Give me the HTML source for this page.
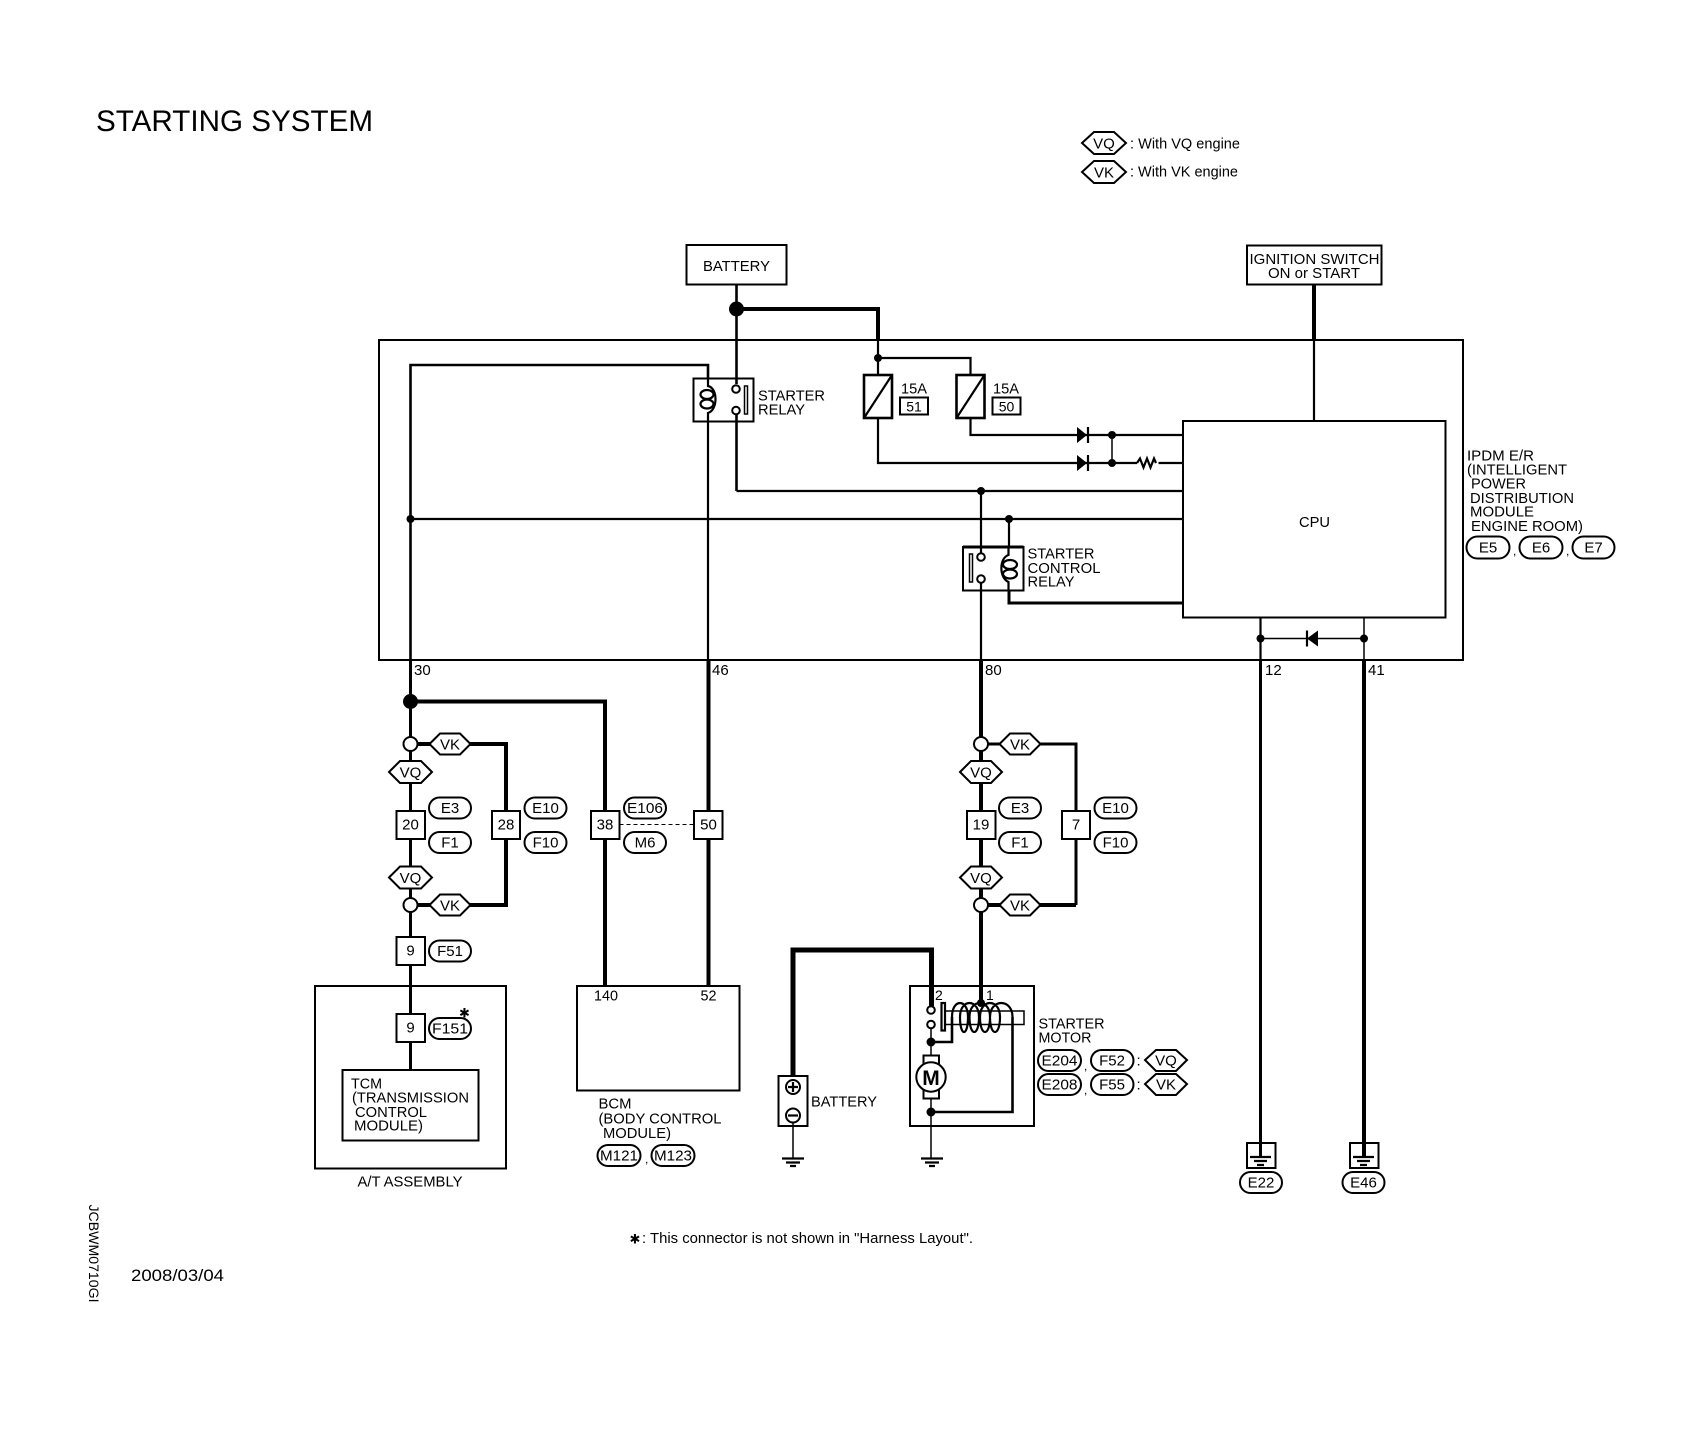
<!DOCTYPE html>
<html><head><meta charset="utf-8"><title>Starting System</title>
<style>
html,body{margin:0;padding:0;background:#fff}
svg{display:block}
text{font-family:"Liberation Sans",sans-serif;font-size:15px;fill:#000}
.m{text-anchor:middle}
.b{fill:none;stroke:#000;stroke-width:2}
.w{fill:#fff;stroke:#000;stroke-width:2}
.t1{fill:none;stroke:#000;stroke-width:1.5}
.t2{fill:none;stroke:#000;stroke-width:2.2}
.t25{fill:none;stroke:#000;stroke-width:2.6}
.t3{fill:none;stroke:#000;stroke-width:3}
.t4{fill:none;stroke:#000;stroke-width:4}
.d{fill:#000;stroke:none}
</style></head><body>
<svg xmlns="http://www.w3.org/2000/svg" width="1694" height="1456" viewBox="0 0 1694 1456">
<rect width="1694" height="1456" fill="#fff"/>

<!-- Title -->
<text x="96" y="131" style="font-size:30px" textLength="277" lengthAdjust="spacingAndGlyphs">STARTING SYSTEM</text>

<!-- Legend -->
<polygon class="w" points="1082,143 1094,132 1114,132 1126,143 1114,154 1094,154"/>
<text x="1104" y="148.5" class="m">VQ</text>
<text x="1130" y="148.5" textLength="110" lengthAdjust="spacingAndGlyphs">: With VQ engine</text>
<polygon class="w" points="1082,172 1094,161 1114,161 1126,172 1114,183 1094,183"/>
<text x="1104" y="177.5" class="m">VK</text>
<text x="1130" y="176.5" textLength="108" lengthAdjust="spacingAndGlyphs">: With VK engine</text>

<!-- Top boxes -->
<rect class="b" x="686.5" y="245" width="100" height="39.5"/>
<text x="703" y="271" textLength="67" lengthAdjust="spacingAndGlyphs">BATTERY</text>
<rect class="b" x="1247" y="245.5" width="134.5" height="39"/>
<text x="1249.5" y="264" textLength="130" lengthAdjust="spacingAndGlyphs">IGNITION SWITCH</text>
<text x="1268" y="278" textLength="92" lengthAdjust="spacingAndGlyphs">ON or START</text>

<!-- IPDM enclosure -->
<rect class="b" x="379" y="340" width="1084" height="320"/>

<!-- Upper wiring -->
<path class="t25" d="M736.5 284.5V384"/>
<circle class="d" cx="736.5" cy="309" r="7.5"/>
<path class="t4" d="M736.5 309H878V340"/>
<path class="t2" d="M878 340V374.5"/>
<circle class="d" cx="878" cy="358" r="4"/>
<path class="t2" d="M878 358H970.5V374.5"/>
<path class="t4" d="M1314 284.5V340"/>
<path class="t2" d="M1314 340V421"/>

<!-- Starter relay -->
<path class="t25" d="M410.5 660V365H708V378"/>
<rect class="b" x="693.5" y="378.5" width="60" height="43"/>
<path class="t2" d="M708 378V386C718 388 718 410 708 413V421"/>
<ellipse class="t2" cx="707" cy="394.5" rx="6.5" ry="4.5"/>
<ellipse class="t2" cx="707" cy="404" rx="6.5" ry="4.5"/>
<circle class="w" cx="736" cy="389" r="3.8"/>
<circle class="w" cx="736" cy="410.5" r="3.8"/>
<rect class="t1" x="744.5" y="386" width="3" height="28"/>
<text x="758" y="400.5" textLength="67" lengthAdjust="spacingAndGlyphs">STARTER</text>
<text x="758" y="414.5" textLength="47" lengthAdjust="spacingAndGlyphs">RELAY</text>
<path class="t2" d="M708 421V660"/>
<path class="t4" d="M708.5 660V985.5"/>
<path class="t25" d="M736.5 414V491"/>
<path class="t2" d="M736.5 491H1183"/>
<path class="t2" d="M410.5 519H1183"/>
<circle class="d" cx="410.5" cy="519" r="4"/>

<!-- Fuses -->
<rect class="b" x="864" y="375" width="28" height="43" style="stroke-width:2.6"/>
<line class="t2" x1="864" y1="418" x2="892" y2="375"/>
<rect class="b" x="956.5" y="375" width="28" height="43" style="stroke-width:2.6"/>
<line class="t2" x1="956.5" y1="418" x2="984.5" y2="375"/>
<text x="901" y="393.5" textLength="26" lengthAdjust="spacingAndGlyphs">15A</text>
<rect class="b" x="900" y="397.5" width="28" height="17"/>
<text x="914" y="411.5" class="m" style="font-size:14px">51</text>
<text x="993" y="393.5" textLength="26" lengthAdjust="spacingAndGlyphs">15A</text>
<rect class="b" x="992.5" y="397.5" width="28" height="17"/>
<text x="1006.5" y="411.5" class="m" style="font-size:14px">50</text>

<path class="t2" d="M970.5 418V435H1183"/>
<path class="t2" d="M878 418V463H1137"/>
<path class="t2" d="M1158.5 463H1183"/>
<path class="t2" d="M1137 463l3 -4.5 3.5 9 3.5 -9 3.5 9 3.5 -9 2 4.5"/>
<polygon class="d" points="1077,427 1087,435 1077,443"/>
<line class="t2" x1="1088" y1="427" x2="1088" y2="443"/>
<polygon class="d" points="1077,455 1087,463 1077,471"/>
<line class="t2" x1="1088" y1="455" x2="1088" y2="471"/>
<line class="t1" x1="1112" y1="435" x2="1112" y2="463"/>
<circle class="d" cx="1112" cy="435" r="4"/>
<circle class="d" cx="1112" cy="463" r="4"/>

<!-- Starter control relay -->
<circle class="d" cx="981" cy="491" r="4"/>
<circle class="d" cx="1009" cy="519" r="4"/>
<path class="t2" d="M981 491V547"/>
<path class="t2" d="M1009 519V547"/>
<rect class="b" x="963" y="547" width="60.5" height="43.5"/>
<line class="t3" x1="963" y1="547" x2="1023.5" y2="547"/>
<path class="t2" d="M1008.5 547V555C999 558 999 578 1008.5 582V590.5"/>
<ellipse class="t2" cx="1010" cy="564.5" rx="7" ry="4.5"/>
<ellipse class="t2" cx="1010" cy="574" rx="7" ry="4.5"/>
<path class="t2" d="M981 547V553M981 582V660"/>
<circle class="w" cx="981" cy="557" r="3.8"/>
<circle class="w" cx="981" cy="579" r="3.8"/>
<rect class="t1" x="969.5" y="554" width="3" height="28"/>
<path class="t3" d="M1009 590.5V603H1183"/>
<text x="1027.5" y="558.5" textLength="67" lengthAdjust="spacingAndGlyphs">STARTER</text>
<text x="1027.5" y="573" textLength="73" lengthAdjust="spacingAndGlyphs">CONTROL</text>
<text x="1027.5" y="586.5" textLength="47" lengthAdjust="spacingAndGlyphs">RELAY</text>

<!-- CPU -->
<rect class="b" x="1183" y="421" width="262.5" height="196.5"/>
<text x="1299" y="527" textLength="31" lengthAdjust="spacingAndGlyphs">CPU</text>
<path class="t2" d="M1260.5 617.5V660"/>
<path class="t1" d="M1364 617.5V660"/>
<line class="t1" x1="1260.5" y1="638.5" x2="1364" y2="638.5"/>
<circle class="d" cx="1260.5" cy="638.5" r="4"/>
<circle class="d" cx="1364" cy="638.5" r="4"/>
<polygon class="d" points="1318,630.5 1307,638.5 1318,646.5"/>
<line class="t2" x1="1307" y1="630.5" x2="1307" y2="646.5"/>

<!-- IPDM label -->
<text x="1467" y="460.5" textLength="67" lengthAdjust="spacingAndGlyphs">IPDM E/R</text>
<text x="1467" y="474.5" textLength="100" lengthAdjust="spacingAndGlyphs">(INTELLIGENT</text>
<text x="1471" y="488.5" textLength="55" lengthAdjust="spacingAndGlyphs">POWER</text>
<text x="1470" y="503" textLength="104" lengthAdjust="spacingAndGlyphs">DISTRIBUTION</text>
<text x="1470" y="516.5" textLength="64" lengthAdjust="spacingAndGlyphs">MODULE</text>
<text x="1471" y="531" textLength="112" lengthAdjust="spacingAndGlyphs">ENGINE ROOM)</text>
<rect class="b" x="1466.5" y="536.5" width="43" height="22" rx="11"/><text x="1488" y="552.5" class="m">E5</text>
<rect class="b" x="1519.5" y="536.5" width="43" height="22" rx="11"/><text x="1541" y="552.5" class="m">E6</text>
<rect class="b" x="1572.5" y="536.5" width="42" height="22" rx="11"/><text x="1593.5" y="552.5" class="m">E7</text>
<text x="1513" y="555" style="font-size:12px">,</text><text x="1566" y="555" style="font-size:12px">,</text>

<!-- Pin numbers -->
<text x="414" y="675">30</text>
<text x="712" y="675">46</text>
<text x="985" y="675">80</text>
<text x="1265" y="675">12</text>
<text x="1368" y="675">41</text>

<!-- Down wires -->
<path class="t3" d="M410.5 660V985.5"/>
<circle class="d" cx="410.5" cy="701.5" r="7.5"/>
<path class="t4" d="M410.5 701.5H605V985.5"/>
<path class="t4" d="M410.5 744H506V905H410.5"/>
<path class="t4" d="M981 660V1003"/>
<path class="t3" d="M981 744H1076V905"/>
<path class="t4" d="M1076 905H981"/>
<path class="t3" d="M410.5 985.5V1070"/>
<path class="t3" d="M1260.5 660V1157"/>
<path class="t4" d="M1364 660V1157"/>

<!-- Left harness group -->
<circle class="w" cx="410.5" cy="744" r="7"/>
<circle class="w" cx="410.5" cy="905" r="7"/>
<polygon class="w" points="429.5,744 440,733.5 460,733.5 470.5,744 460,754.5 440,754.5"/>
<text x="450" y="749.5" class="m">VK</text>
<polygon class="w" points="429.5,905 440,894.5 460,894.5 470.5,905 460,915.5 440,915.5"/>
<text x="450" y="910.5" class="m">VK</text>
<polygon class="w" points="389,772 400,761 421,761 432,772 421,783 400,783"/>
<text x="410.5" y="777.5" class="m">VQ</text>
<polygon class="w" points="389,877.5 400,866.5 421,866.5 432,877.5 421,888.5 400,888.5"/>
<text x="410.5" y="883" class="m">VQ</text>

<rect class="w" x="396.5" y="811" width="28.5" height="28"/><text x="410.5" y="829.5" class="m">20</text>
<rect class="w" x="492" y="811" width="28" height="28"/><text x="506" y="829.5" class="m">28</text>
<rect class="b" x="429" y="797.5" width="42" height="21" rx="10.5"/><text x="450" y="813" class="m">E3</text>
<rect class="b" x="429" y="832" width="42" height="21" rx="10.5"/><text x="450" y="847.5" class="m">F1</text>
<rect class="b" x="524.5" y="797.5" width="42" height="21" rx="10.5"/><text x="545.5" y="813" class="m">E10</text>
<rect class="b" x="524.5" y="832" width="42" height="21" rx="10.5"/><text x="545.5" y="847.5" class="m">F10</text>

<rect class="w" x="591" y="811" width="28.5" height="28"/><text x="605" y="829.5" class="m">38</text>
<rect class="w" x="694" y="811" width="28.5" height="28"/><text x="708.5" y="829.5" class="m">50</text>
<line x1="619.5" y1="824.5" x2="694" y2="824.5" stroke="#000" stroke-width="1" stroke-dasharray="4 3"/>
<rect class="b" x="624" y="797.5" width="42" height="21" rx="10.5"/><text x="645" y="813" class="m" textLength="36" lengthAdjust="spacingAndGlyphs">E106</text>
<rect class="b" x="624" y="832" width="42" height="21" rx="10.5"/><text x="645" y="847.5" class="m">M6</text>

<rect class="w" x="396.5" y="937" width="28.5" height="28"/><text x="410.5" y="955.5" class="m">9</text>
<rect class="b" x="429" y="940.5" width="42" height="21" rx="10.5"/><text x="450" y="956" class="m">F51</text>

<!-- A/T assembly -->
<rect class="b" x="315" y="986" width="191" height="182.5"/>
<rect class="w" x="396.5" y="1014" width="28.5" height="28"/><text x="410.5" y="1032.5" class="m">9</text>
<rect class="b" x="429" y="1018" width="42" height="21" rx="10.5"/><text x="450" y="1033.5" class="m" textLength="36" lengthAdjust="spacingAndGlyphs">F151</text>
<text x="459" y="1017.5" style="font-family:'DejaVu Sans',sans-serif;font-size:13px">✱</text>
<rect class="w" x="342.5" y="1070" width="136" height="70.5"/>
<text x="351" y="1088.5" textLength="31" lengthAdjust="spacingAndGlyphs">TCM</text>
<text x="352" y="1102.5" textLength="117" lengthAdjust="spacingAndGlyphs">(TRANSMISSION</text>
<text x="355" y="1117" textLength="72" lengthAdjust="spacingAndGlyphs">CONTROL</text>
<text x="354" y="1130.5" textLength="69" lengthAdjust="spacingAndGlyphs">MODULE)</text>
<text x="357.5" y="1186.5" textLength="105" lengthAdjust="spacingAndGlyphs">A/T ASSEMBLY</text>

<!-- BCM -->
<rect class="b" x="577" y="986" width="162.5" height="104.5"/>
<text x="594" y="1000.5" textLength="24" lengthAdjust="spacingAndGlyphs">140</text>
<text x="700.5" y="1000.5" textLength="16" lengthAdjust="spacingAndGlyphs">52</text>
<text x="598.5" y="1108.5" textLength="33" lengthAdjust="spacingAndGlyphs">BCM</text>
<text x="598.5" y="1123.5" textLength="123" lengthAdjust="spacingAndGlyphs">(BODY CONTROL</text>
<text x="603" y="1138" textLength="68" lengthAdjust="spacingAndGlyphs">MODULE)</text>
<rect class="b" x="597.5" y="1145" width="43" height="21" rx="10.5"/><text x="619" y="1160.5" class="m" textLength="38" lengthAdjust="spacingAndGlyphs">M121</text>
<rect class="b" x="651.5" y="1145" width="43" height="21" rx="10.5"/><text x="673" y="1160.5" class="m" textLength="38" lengthAdjust="spacingAndGlyphs">M123</text>
<text x="645" y="1163" style="font-size:12px">,</text>

<!-- Center harness group -->
<circle class="w" cx="981" cy="744" r="7"/>
<circle class="w" cx="981" cy="905" r="7"/>
<polygon class="w" points="999.5,744 1010,733.5 1030,733.5 1040.5,744 1030,754.5 1010,754.5"/>
<text x="1020" y="749.5" class="m">VK</text>
<polygon class="w" points="999.5,905 1010,894.5 1030,894.5 1040.5,905 1030,915.5 1010,915.5"/>
<text x="1020" y="910.5" class="m">VK</text>
<polygon class="w" points="960,772 971,761 991,761 1002,772 991,783 971,783"/>
<text x="981" y="777.5" class="m">VQ</text>
<polygon class="w" points="960,877.5 971,866.5 991,866.5 1002,877.5 991,888.5 971,888.5"/>
<text x="981" y="883" class="m">VQ</text>
<rect class="w" x="967" y="811" width="28.5" height="28"/><text x="981" y="829.5" class="m">19</text>
<rect class="w" x="1062" y="811" width="28" height="28"/><text x="1076" y="829.5" class="m">7</text>
<rect class="b" x="999" y="797.5" width="42" height="21" rx="10.5"/><text x="1020" y="813" class="m">E3</text>
<rect class="b" x="999" y="832" width="42" height="21" rx="10.5"/><text x="1020" y="847.5" class="m">F1</text>
<rect class="b" x="1094.5" y="797.5" width="42" height="21" rx="10.5"/><text x="1115.5" y="813" class="m">E10</text>
<rect class="b" x="1094.5" y="832" width="42" height="21" rx="10.5"/><text x="1115.5" y="847.5" class="m">F10</text>

<!-- Battery -->
<path class="t4" d="M793 1076V950H931.5V1006" style="stroke-width:5"/>
<rect class="b" x="778.5" y="1076" width="29" height="50"/>
<circle class="b" cx="793" cy="1087" r="7"/>
<path class="t2" d="M788 1087H798M793 1082V1092"/>
<circle class="b" cx="793" cy="1115.5" r="7"/>
<path class="t2" d="M788 1115.5H798"/>
<path class="t1" d="M793 1122.5V1158"/>
<text x="811" y="1106.5" textLength="66" lengthAdjust="spacingAndGlyphs">BATTERY</text>
<path class="t2" d="M782 1158.5H804M786 1162.5H800M790 1166H796"/>

<!-- Starter motor -->
<rect class="b" x="910" y="986" width="124" height="140"/>
<text x="935" y="1000" style="font-size:14px">2</text>
<text x="986" y="1000" style="font-size:14px">1</text>
<rect class="t1" x="945" y="1011" width="79" height="13.5"/>
<rect class="t2" x="941.5" y="1003" width="3.5" height="27.5"/>
<path class="t2" d="M952 1017C952 998.3 968 998.3 968 1017C968 1037 960 1037 960 1017C960 998.3 979 998.3 979 1017C979 1037 969.5 1037 969.5 1017C969.5 998.3 990 998.3 990 1017C990 1037 980 1037 980 1017C980 998.3 1000 998.3 1000 1017C1000 1037 990 1037 990 1017C990 998.3 1012.5 998.3 1012.5 1017"/>
<circle class="d" cx="981" cy="1003" r="4"/>
<circle class="w" cx="931" cy="1010" r="3.8"/>
<circle class="w" cx="931" cy="1024.5" r="3.8"/>
<path class="t1" d="M931 1028V1055.5"/>
<path class="t25" d="M931 1042H952V1017"/>
<path class="t25" d="M1012.5 1017V1112H931"/>
<circle class="d" cx="931" cy="1042" r="4.5"/>
<rect class="w" x="923.5" y="1055.5" width="15.5" height="43"/>
<circle class="w" cx="931" cy="1077" r="14.7"/>
<text x="931" y="1085" class="m" style="font-size:21px;font-weight:bold">M</text>
<path class="t1" d="M931 1098V1158"/>
<circle class="d" cx="931" cy="1112" r="4.5"/>
<path class="t2" d="M921 1158.5H943M925 1162.5H939M929 1166H935"/>
<text x="1038.5" y="1028.5" textLength="66" lengthAdjust="spacingAndGlyphs">STARTER</text>
<text x="1038.5" y="1042.5" textLength="53" lengthAdjust="spacingAndGlyphs">MOTOR</text>
<rect class="b" x="1038" y="1050" width="43" height="21" rx="10.5"/><text x="1059.5" y="1065.5" class="m" textLength="36" lengthAdjust="spacingAndGlyphs">E204</text>
<rect class="b" x="1091" y="1050" width="42.5" height="21" rx="10.5"/><text x="1112" y="1065.5" class="m">F52</text>
<rect class="b" x="1038" y="1074" width="43" height="21" rx="10.5"/><text x="1059.5" y="1089.5" class="m" textLength="36" lengthAdjust="spacingAndGlyphs">E208</text>
<rect class="b" x="1091" y="1074" width="42.5" height="21" rx="10.5"/><text x="1112" y="1089.5" class="m">F55</text>
<text x="1084" y="1070" style="font-size:12px">,</text><text x="1084" y="1094" style="font-size:12px">,</text>
<text x="1136.5" y="1065.5" style="font-size:15px">:</text><text x="1136.5" y="1089.5" style="font-size:15px">:</text>
<polygon class="w" points="1145,1060 1156,1050 1176,1050 1187,1060 1176,1071 1156,1071"/>
<text x="1166" y="1065.5" class="m">VQ</text>
<polygon class="w" points="1145,1084 1156,1074 1176,1074 1187,1084 1176,1095 1156,1095"/>
<text x="1166" y="1089.5" class="m">VK</text>

<!-- Grounds -->
<rect class="b" x="1247" y="1143" width="28.5" height="25"/>
<path class="t2" d="M1250 1157H1271M1254 1161H1267M1257 1165H1264"/>
<rect class="b" x="1350" y="1143" width="28.5" height="25"/>
<path class="t2" d="M1353 1157H1374M1357 1161H1370M1360 1165H1367"/>
<rect class="b" x="1240" y="1172" width="42" height="21" rx="10.5"/><text x="1261" y="1187.5" class="m">E22</text>
<rect class="b" x="1342.5" y="1172" width="42" height="21" rx="10.5"/><text x="1363.5" y="1187.5" class="m">E46</text>

<!-- Notes -->
<text x="629.5" y="1243.5" style="font-family:'DejaVu Sans',sans-serif;font-size:13px">✱</text>
<text x="642" y="1243" textLength="331" lengthAdjust="spacingAndGlyphs">: This connector is not shown in "Harness Layout".</text>
<text x="131" y="1281" style="font-size:17px" textLength="93" lengthAdjust="spacingAndGlyphs">2008/03/04</text>
<text transform="translate(89,1204.5) rotate(90)" textLength="98" lengthAdjust="spacingAndGlyphs" style="font-size:14px">JCBWM0710GI</text>
</svg>
</body></html>
